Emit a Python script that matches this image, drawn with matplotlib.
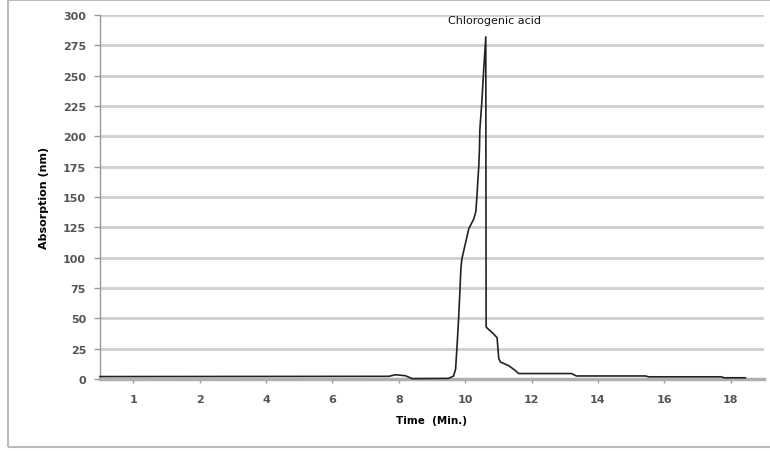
import numpy as np
import matplotlib
matplotlib.use("Agg")
import matplotlib.pyplot as plt
from matplotlib.patches import Rectangle

# Data
time_min = [0.5, 7.70, 7.90, 8.20, 8.40, 9.50, 9.65, 9.71, 9.75, 9.80, 9.83, 9.87,
            9.90, 10.11, 10.26, 10.32, 10.35, 10.38, 10.41, 10.43, 10.44, 10.50,
            10.56, 10.62, 10.63, 10.66, 10.86, 10.96, 11.01, 11.06, 11.31, 11.51,
            11.61, 13.20, 13.35, 15.43, 15.52, 17.71, 17.80, 18.44]
absorption = [2.0, 2.2, 3.5, 2.7, 0.3, 0.5, 2.5, 8, 25, 49, 66, 91,
              99, 124, 132, 138, 149, 163, 176, 190, 205, 228,
              256, 282, 43, 42, 37, 34, 17, 14, 11, 7,
              4.5, 4.5, 2.5, 2.5, 1.8, 1.8, 1.0, 1.0]
x_ticks = [1, 2, 4, 6, 8, 10, 12, 14, 16, 18]
x_tick_labels = ["1", "2", "4", "6", "8", "10", "12", "14", "16", "18"]
y_ticks = [0, 25, 50, 75, 100, 125, 150, 175, 200, 225, 250, 275, 300]
peak_label = "Chlorogenic acid"
peak_time = 10.62
peak_value = 282


def fwd(t):
    t = np.asarray(t, dtype=float)
    return np.where(t < 2, t, t / 2 + 1)


def inv(p):
    p = np.asarray(p, dtype=float)
    return np.where(p < 2, p, 2 * (p - 1))


fig = plt.figure(figsize=(7.70, 4.52), dpi=100)
ax = fig.add_axes([100 / 770, 1 - 380 / 452, 664 / 770, 364 / 452])
ax.set_xscale("function", functions=(fwd, inv))

ax.plot(time_min, absorption, color="#222222", lw=1.2, zorder=3, clip_on=False)

ax.set_xlim(0.5, 19)
ax.set_ylim(0, 300)
ax.set_xticks(x_ticks)
ax.set_xticklabels(x_tick_labels)
ax.set_yticks(y_ticks)
ax.minorticks_off()

ax.yaxis.grid(True, color="#cfcfcf", lw=2)
ax.set_axisbelow(True)
for s in ["top", "right"]:
    ax.spines[s].set_visible(False)
ax.spines["left"].set_color("#999999")
ax.spines["left"].set_linewidth(1.0)
ax.spines["bottom"].set_color("#b0b0b0")
ax.spines["bottom"].set_linewidth(2.5)

ax.tick_params(axis="y", length=4, width=1, color="#999999", pad=6,
               labelsize=8, labelcolor="#555555")
ax.tick_params(axis="x", length=3, width=1, color="#999999", pad=8,
               labelsize=8, labelcolor="#555555")
for lab in ax.get_xticklabels() + ax.get_yticklabels():
    lab.set_fontweight("bold")

ax.set_xlabel("Time  (Min.)", fontsize=7.5, fontweight="bold", labelpad=8)
ax.set_ylabel("Absorption (nm)", fontsize=8, fontweight="bold", labelpad=10)

ax.text(peak_time + 0.25, peak_value + 14, peak_label, ha="center", va="center",
        fontsize=8, color="#111111")

fig.patches.append(Rectangle((8 / 770, 1 - 448 / 452), 770 / 770, 447 / 452,
                             transform=fig.transFigure, fill=False,
                             edgecolor="#bbbbbb", lw=1.5))

fig.savefig("out.png", dpi=100)
